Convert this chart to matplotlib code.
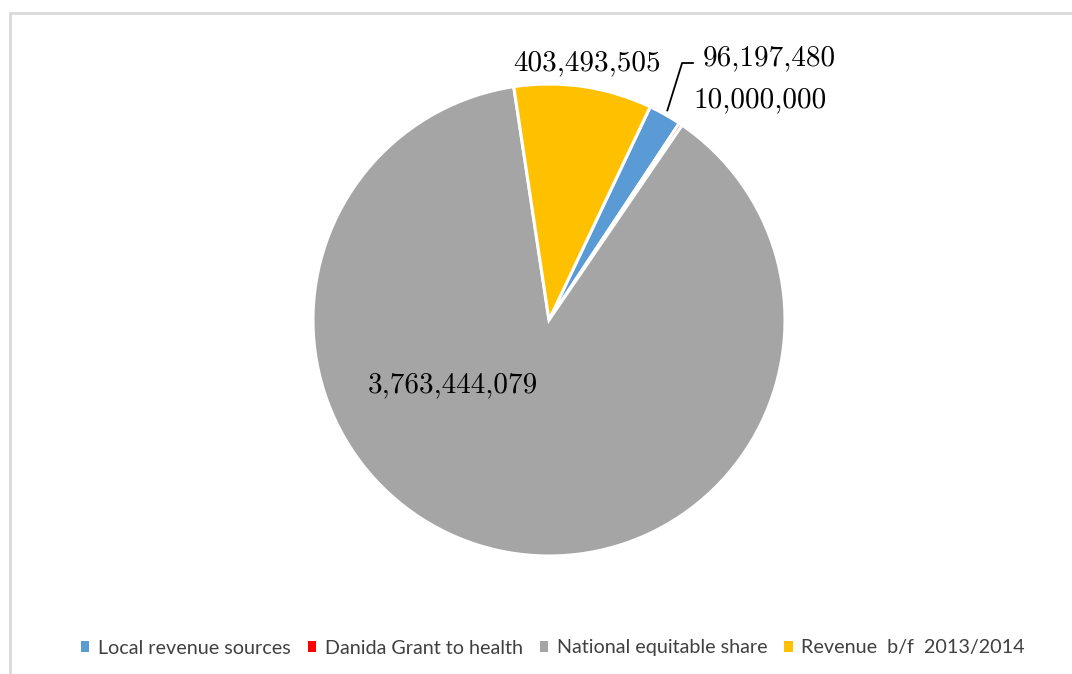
import matplotlib
matplotlib.use("Agg")
import matplotlib.pyplot as plt
from matplotlib.patches import Patch, Rectangle
import numpy as np

categories = ["Local revenue sources", "Danida Grant to health",
              "National equitable share", "Revenue  b/f  2013/2014"]
values = [96197480, 10000000, 3763444079, 403493505]
colors = ["#5B9BD5", "#FF0000", "#A5A5A5", "#FFC000"]

W, H = 1072, 674
fig = plt.figure(figsize=(W / 100, H / 100), dpi=100)

# light grey chart frame
fig.patches.append(Rectangle((10 / W, -0.05), 1.2, 1 - 13 / H + 0.05,
                             transform=fig.transFigure, fill=False,
                             edgecolor="#D9D9D9", linewidth=2.0))

cx, cy, r = 549, 320, 236
ax = fig.add_axes([(cx - r) / W, (H - cy - r) / H, 2 * r / W, 2 * r / H])
wedges, _ = ax.pie(values, colors=colors, startangle=64.6, counterclock=False,
                   wedgeprops=dict(edgecolor="white", linewidth=2.2))
ax.set_xlim(-1, 1)
ax.set_ylim(-1, 1)
ax.set_aspect("equal")
ax.axis("off")

def fmt(v):
    return f"{v:,}"

def mid(w):
    a = np.deg2rad((w.theta1 + w.theta2) / 2)
    return np.cos(a), np.sin(a)

lab_font = dict(family="cmr10", fontsize=21, color="black",
                ha="center", va="center")

# yellow slice label (radially outside)
mx, my = mid(wedges[3])
ax.text(mx * 1.10, my * 1.10, fmt(values[3]), clip_on=False, **lab_font)

# blue slice label with leader line
mx, my = mid(wedges[0])
ax.plot([mx * 1.02, 0.564, 0.61], [my * 1.02, 1.089, 1.089],
        color="black", lw=1.3, clip_on=False)
ax.text(0.935, 1.108, fmt(values[0]), clip_on=False, **lab_font)

# red slice label
ax.text(0.894, 0.932, fmt(values[1]), clip_on=False, **lab_font)

# grey slice label
ax.text(-0.407, -0.275, fmt(values[2]), clip_on=False, **lab_font)

handles = [Patch(facecolor=c, edgecolor="none") for c in colors]
fig.legend(handles, categories, loc="center", bbox_to_anchor=(0.516, 1 - 648 / H),
           ncol=4, frameon=False, prop=dict(family="Lato", size=14.2),
           labelcolor="#404040", handlelength=0.42, handleheight=0.42,
           handletextpad=0.45, columnspacing=0.85, borderpad=0, borderaxespad=0)

fig.savefig("out.png", dpi=100)
